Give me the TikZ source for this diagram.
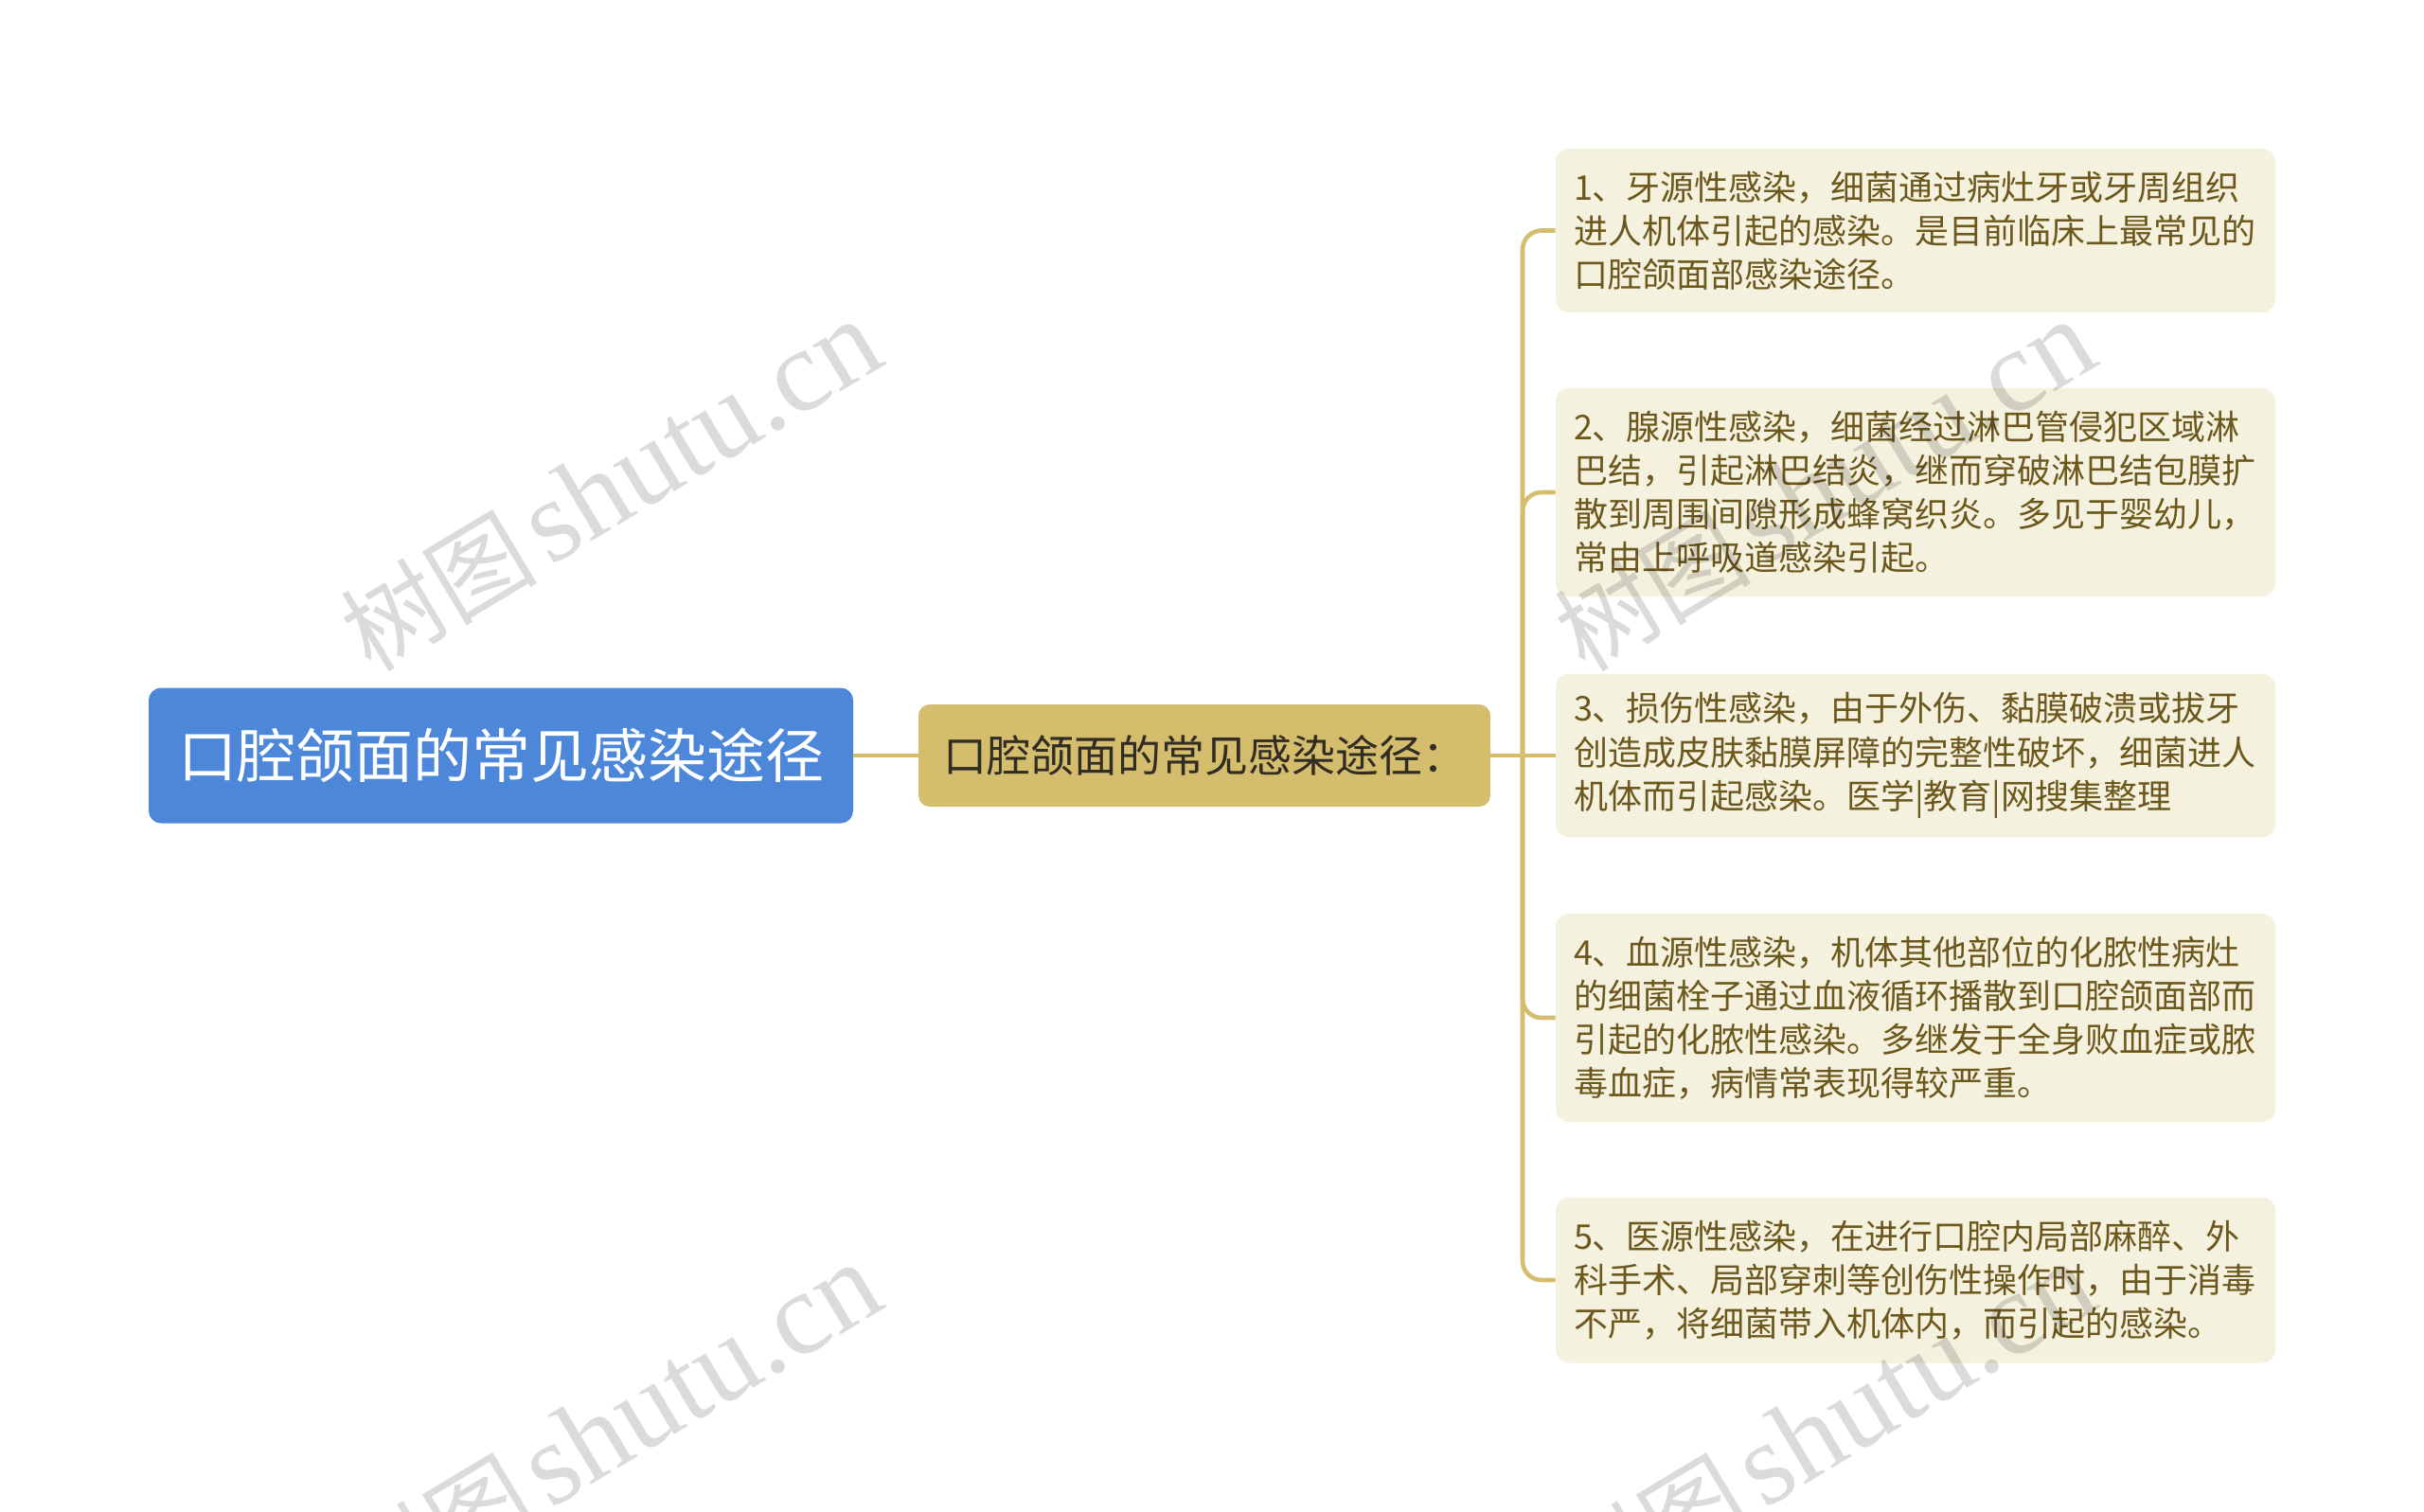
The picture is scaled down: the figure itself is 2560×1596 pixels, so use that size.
\documentclass[tikz,border=0pt]{standalone}
\usepackage{fontspec}
\setmainfont{Noto Sans CJK SC}
\newfontfamily\wmcjk{Noto Sans CJK SC}
\newfontfamily\wmlat{Liberation Serif}
\definecolor{rootblue}{RGB}{77,135,218}
\definecolor{midgold}{RGB}{212,190,110}
\definecolor{leaffill}{RGB}{245,241,223}
\definecolor{leaftext}{RGB}{108,88,28}
\definecolor{linegold}{RGB}{212,190,110}
\definecolor{midtext}{RGB}{50,45,35}
\newcommand{\wmtext}{{\wmcjk\fontsize{52}{52}\selectfont 树图}\hspace{6pt}{\wmlat\fontsize{62}{62}\selectfont shutu.cn}}
\tikzset{
  rootbox/.style={rectangle, rounded corners=6.5pt, fill=rootblue, text=white,
    minimum width=372pt, minimum height=71.5pt, inner sep=0pt,
    font=\fontsize{31}{36}\selectfont},
  midbox/.style={rectangle, rounded corners=6pt, fill=midgold, text=midtext,
    minimum width=302pt, minimum height=54pt, inner sep=0pt,
    font=\fontsize{23}{28}\selectfont},
  leafbox/.style={rectangle, rounded corners=7pt, fill=leaffill, text=leaftext,
    text width=361pt, align=left, inner xsep=9.5pt, inner ysep=0pt,
    font=\fontsize{18}{23.1}\selectfont},
  conn/.style={draw=linegold, line width=2.3pt},
  wm/.style={text=black, opacity=0.14, rotate=31, inner sep=0pt}
}
\begin{document}
\begin{tikzpicture}[x=0.5pt,y=-0.5pt]
\useasboundingbox (0,0) rectangle (2560,1596);
% nodes
\node[rootbox] (root) at (529,798) {口腔颌面的常见感染途径};
\node[midbox] (mid) at (1272,798) {口腔颌面的常见感染途径：};
\node[leafbox, minimum height=86.5pt] (l1) at (2023,243.5) {1、牙源性感染，细菌通过病灶牙或牙周组织\\进人机体引起的感染。是目前临床上最常见的\\口腔颌面部感染途径。};
\node[leafbox, minimum height=110pt] (l2) at (2023,520) {2、腺源性感染，细菌经过淋巴管侵犯区域淋\\巴结，引起淋巴结炎，继而穿破淋巴结包膜扩\\散到周围间隙形成蜂窝织炎。多见于婴幼儿，\\常由上呼吸道感染引起。};
\node[leafbox, minimum height=86.5pt] (l3) at (2023,798) {3、损伤性感染，由于外伤、黏膜破溃或拔牙\\创造成皮肤黏膜屏障的完整性破坏，细菌进人\\机体而引起感染。医学|教育|网搜集整理};
\node[leafbox, minimum height=110pt] (l4) at (2023,1075) {4、血源性感染，机体其他部位的化脓性病灶\\的细菌栓子通过血液循环播散到口腔颌面部而\\引起的化脓性感染。多继发于全身败血症或脓\\毒血症，病情常表现得较严重。};
\node[leafbox, minimum height=87.5pt] (l5) at (2023,1352) {5、医源性感染，在进行口腔内局部麻醉、外\\科手术、局部穿刺等创伤性操作时，由于消毒\\不严，将细菌带入机体内，而引起的感染。};
% connectors
\coordinate (j) at (1608,798);
\draw[conn] (root.east) -- (mid.west);
\draw[conn] (mid.east) -- (l3.west);
\draw[conn, rounded corners=10pt] (j) |- (l1.west);
\draw[conn, rounded corners=10pt] (j) |- (l2.west);
\draw[conn, rounded corners=10pt] (j) |- (l4.west);
\draw[conn, rounded corners=10pt] (j) |- (l5.west);
% watermarks
\node[wm] (w1) at (645,514) {\wmtext};
\node[wm] (w2) at (1927,514) {\wmtext};
\node[wm] (w3) at (645,1510) {\wmtext};
\node[wm] (w4) at (1927,1510) {\wmtext};
\end{tikzpicture}
\end{document}
